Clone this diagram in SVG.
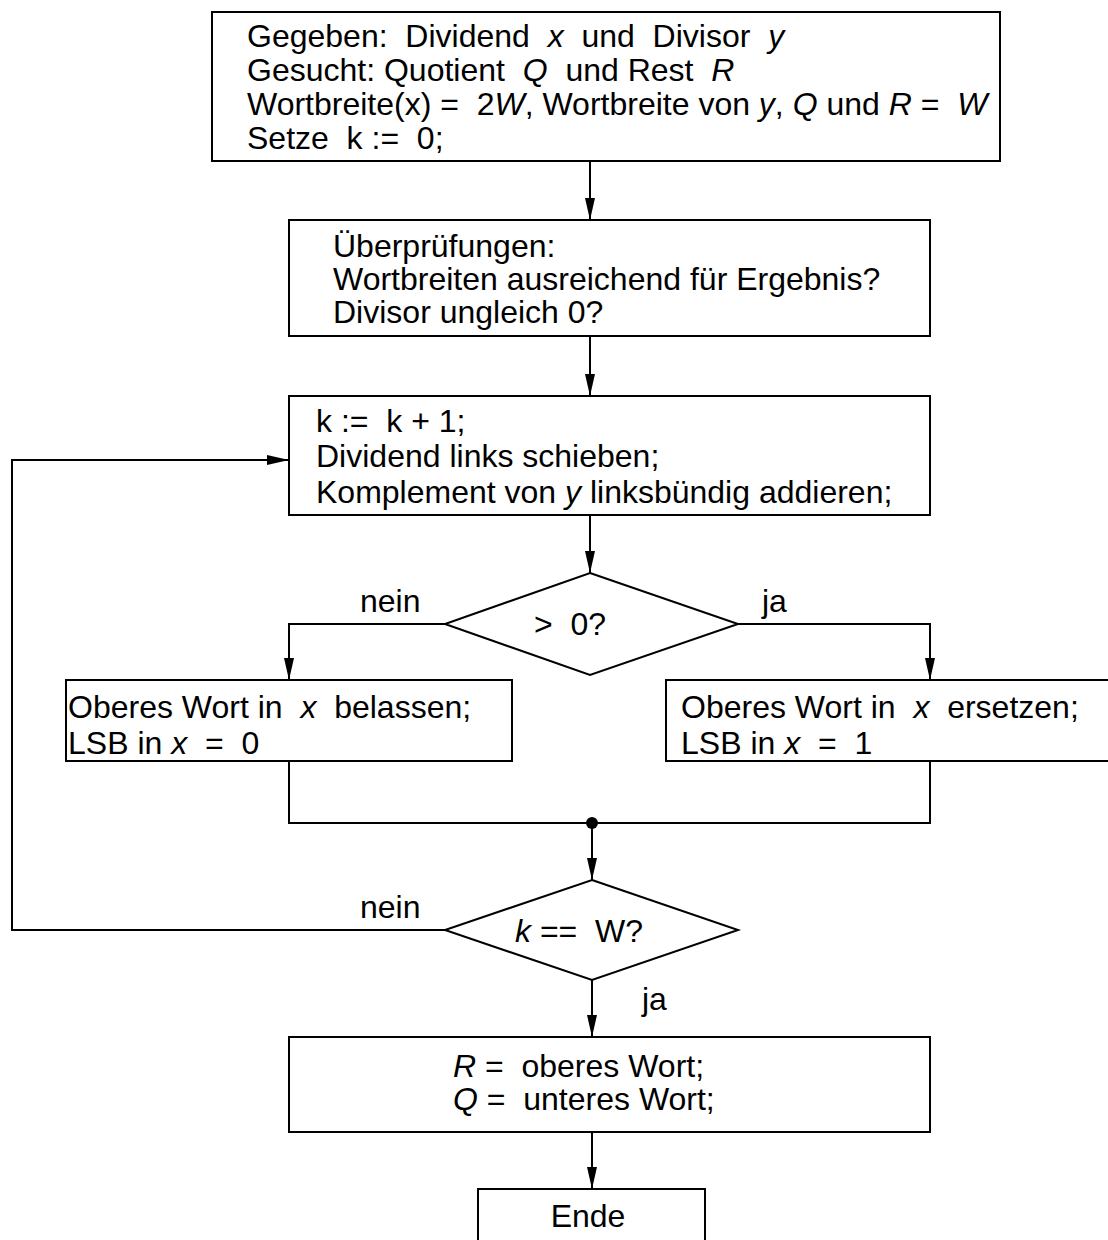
<svg xmlns="http://www.w3.org/2000/svg" width="1108" height="1240" viewBox="0 0 1108 1240">
<style>
.box{fill:#fff;stroke:#000;stroke-width:2}
.ln{fill:none;stroke:#000;stroke-width:2}
.t{font-family:"Liberation Sans",Arial,sans-serif;font-size:32px;fill:#000;white-space:pre}
.i{font-style:italic}
</style>
<defs>
<marker id="ah" markerWidth="22" markerHeight="10" refX="22" refY="5" orient="auto" markerUnits="userSpaceOnUse">
<path d="M0,0 L22,5 L0,10 z" fill="#000"/>
</marker>
</defs>
<rect width="1108" height="1240" fill="#fff"/>
<g id="connectors">
<line class="ln" x1="590" y1="161" x2="590" y2="220" marker-end="url(#ah)"/>
<line class="ln" x1="590" y1="336" x2="590" y2="396" marker-end="url(#ah)"/>
<line class="ln" x1="590" y1="515" x2="590" y2="573" marker-end="url(#ah)"/>
<polyline class="ln" points="445,624 289,624 289,680" marker-end="url(#ah)"/>
<polyline class="ln" points="738,624 930,624 930,680" marker-end="url(#ah)"/>
<polyline class="ln" points="289,761 289,823 930,823 930,761"/>
<circle cx="592" cy="823" r="6" fill="#000"/>
<line class="ln" x1="592" y1="823" x2="592" y2="880" marker-end="url(#ah)"/>
<polyline class="ln" points="445,930 12,930 12,460 289,460" marker-end="url(#ah)"/>
<line class="ln" x1="592" y1="980" x2="592" y2="1037" marker-end="url(#ah)"/>
<line class="ln" x1="592" y1="1132" x2="592" y2="1189" marker-end="url(#ah)"/>
<text class="t" x="360" y="612">nein</text>
<text class="t" x="762" y="612">ja</text>
<text class="t" x="360" y="918">nein</text>
<text class="t" x="642" y="1010">ja</text>
</g>
<g id="start">
<rect class="box" x="212" y="12" width="788" height="149"/>
<text class="t" x="247" y="47">Gegeben:  Dividend  <tspan class="i">x</tspan>  und  Divisor  <tspan class="i">y</tspan></text>
<text class="t" x="247" y="81">Gesucht: Quotient  <tspan class="i">Q</tspan>  und Rest  <tspan class="i">R</tspan></text>
<text class="t" x="247" y="115">Wortbreite(x) =  2<tspan class="i">W</tspan>, Wortbreite von <tspan class="i">y</tspan>, <tspan class="i">Q</tspan> und <tspan class="i">R</tspan> =  <tspan class="i">W</tspan></text>
<text class="t" x="247" y="149">Setze  k :=  0;</text>
</g>
<g id="check">
<rect class="box" x="289" y="220" width="641" height="116"/>
<text class="t" x="333" y="257">Überprüfungen:</text>
<text class="t" x="333" y="290">Wortbreiten ausreichend für Ergebnis?</text>
<text class="t" x="333" y="323">Divisor ungleich 0?</text>
</g>
<g id="step">
<rect class="box" x="289" y="396" width="641" height="119"/>
<text class="t" x="316" y="432">k :=  k + 1;</text>
<text class="t" x="316" y="467">Dividend links schieben;</text>
<text class="t" x="316" y="503">Komplement von <tspan class="i">y</tspan> linksbündig addieren;</text>
</g>
<g id="decision1">
<polygon class="box" points="590,573 738,624 590,675 445,624"/>
<text class="t" x="534" y="635">&gt;  0?</text>
</g>
<g id="keep">
<rect class="box" x="66" y="680" width="446" height="81"/>
<text class="t" x="68" y="718">Oberes Wort in  <tspan class="i">x</tspan>  belassen;</text>
<text class="t" x="68" y="754">LSB in <tspan class="i">x</tspan>  =  0</text>
</g>
<g id="replace">
<rect class="box" x="666" y="680" width="450" height="81"/>
<text class="t" x="681" y="718">Oberes Wort in  <tspan class="i">x</tspan>  ersetzen;</text>
<text class="t" x="681" y="754">LSB in <tspan class="i">x</tspan>  =  1</text>
</g>
<g id="decision2">
<polygon class="box" points="592,880 738,930 592,980 445,930"/>
<text class="t" x="515" y="942"><tspan class="i">k</tspan> ==  W?</text>
</g>
<g id="result">
<rect class="box" x="289" y="1037" width="641" height="95"/>
<text class="t" x="453" y="1077"><tspan class="i">R</tspan> =  oberes Wort;</text>
<text class="t" x="453" y="1110"><tspan class="i">Q</tspan> =  unteres Wort;</text>
</g>
<g id="end">
<rect class="box" x="478" y="1189" width="227" height="70"/>
<text class="t" x="588" y="1227" text-anchor="middle">Ende</text>
</g>
</svg>
